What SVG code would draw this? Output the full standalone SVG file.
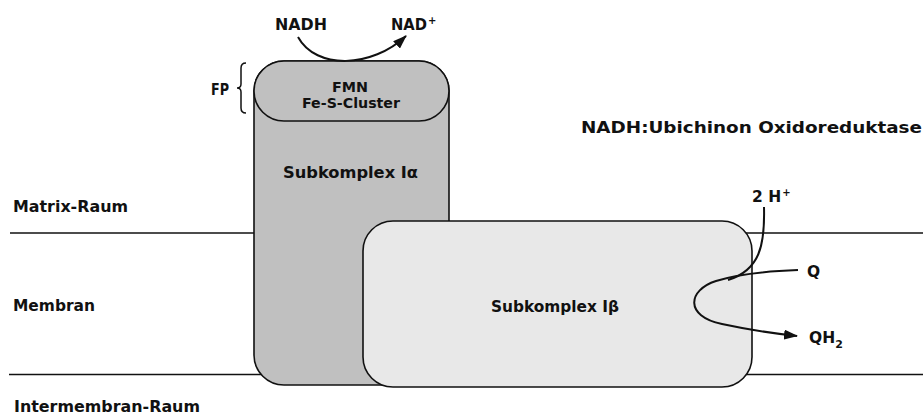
<svg xmlns="http://www.w3.org/2000/svg" width="923" height="415" viewBox="0 0 923 415">
<style>
text{font-family:"DejaVu Sans","Liberation Sans",sans-serif;font-size:15.5px;font-weight:bold;fill:#111;}
.sm{font-size:14px;}
.mem{stroke:#111;stroke-width:1.5;fill:none;}
.box{stroke:#111;stroke-width:1.6;}
.arr{stroke:#111;stroke-width:2;fill:none;}
</style>
<defs>
<marker id="ah" viewBox="0 0 14 10" refX="13" refY="5" markerWidth="14" markerHeight="10" markerUnits="userSpaceOnUse" orient="auto">
<path d="M0,0 L14,5 L0,10 Z" fill="#111"/>
</marker>
</defs>
<rect width="923" height="415" fill="#fff"/>
<g id="membrane">
<line class="mem" x1="10" y1="233" x2="923" y2="233"/>
<line class="mem" x1="9" y1="374.5" x2="923" y2="374.5"/>
</g>
<g id="subkomplex-ia">
<rect class="box" x="254" y="61" width="195" height="324" rx="30" ry="30" fill="#c0c0c0"/>
<text x="283" y="178" textLength="135" lengthAdjust="spacingAndGlyphs">Subkomplex Iα</text>
</g>
<g id="fp">
<rect class="box" x="254" y="61" width="195" height="60" rx="30" ry="30" fill="#c0c0c0"/>
<text class="sm" x="350" y="92" text-anchor="middle" textLength="36" lengthAdjust="spacingAndGlyphs">FMN</text>
<text class="sm" x="351" y="108" text-anchor="middle" textLength="98" lengthAdjust="spacingAndGlyphs">Fe-S-Cluster</text>
<text x="211" y="95" textLength="18" lengthAdjust="spacingAndGlyphs">FP</text>
<path d="M246,63 Q241,63 241,68 L241,84 Q241,88 237,88 Q241,88 241,92 L241,108 Q241,113 246,113" fill="none" stroke="#111" stroke-width="1.5"/>
</g>
<g id="subkomplex-ib">
<rect class="box" x="363" y="221" width="389" height="166" rx="30" ry="30" fill="#e8e8e8"/>
<text x="491" y="312" textLength="128" lengthAdjust="spacingAndGlyphs">Subkomplex Iβ</text>
</g>
<g id="labels">
<text x="581" y="133" textLength="341" lengthAdjust="spacingAndGlyphs">NADH:Ubichinon Oxidoreduktase</text>
<text x="13" y="212" textLength="115" lengthAdjust="spacingAndGlyphs">Matrix-Raum</text>
<text x="13" y="311" textLength="82" lengthAdjust="spacingAndGlyphs">Membran</text>
<text x="14" y="412" textLength="186" lengthAdjust="spacingAndGlyphs">Intermembran-Raum</text>
<text x="275" y="30" textLength="52" lengthAdjust="spacingAndGlyphs">NADH</text>
<text x="391" y="30"><tspan textLength="36" lengthAdjust="spacingAndGlyphs">NAD</tspan><tspan dx="1" dy="-6" font-size="10">+</tspan></text>
<text x="752" y="202">2 H<tspan dx="1" dy="-6" font-size="10">+</tspan></text>
<text x="807" y="277">Q</text>
<text x="809" y="343">QH<tspan dy="5" font-size="11">2</tspan></text>
</g>
<g id="connectors">
<path class="arr" d="M298,37 C316,70 372,68 406,36" marker-end="url(#ah)"/>
<path class="arr" d="M764,207 C765,245 760,270 728,280"/>
<path class="arr" d="M798,270 C770,271 738,274 716,281 C688,290 684,316 722,324 C745,329 770,333 797,336" marker-end="url(#ah)"/>
</g>
</svg>
